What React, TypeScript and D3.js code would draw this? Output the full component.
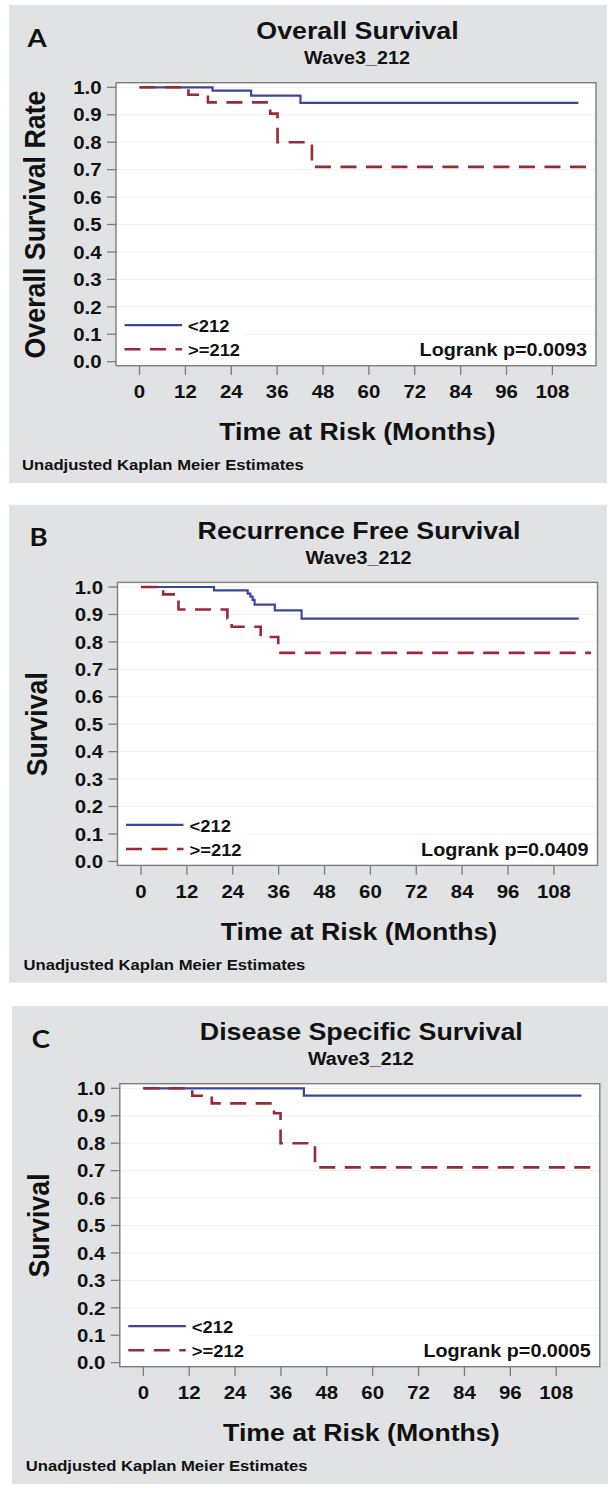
import React from "react";
import * as d3 from "d3";

// ---------- data ----------
const PANEL_LETTERS = ["A", "B", "C"];
const TITLES = ["Overall Survival", "Recurrence Free Survival", "Disease Specific Survival"];
const SUBTITLE = "Wave3_212";
const Y_TITLES = ["Overall Survival Rate", "Survival", "Survival"];
const X_TITLE = "Time at Risk (Months)";
const FOOTNOTE = "Unadjusted Kaplan Meier Estimates";
const PVALUES = ["Logrank p=0.0093", "Logrank p=0.0409", "Logrank p=0.0005"];
const GROUPS = ["<212", ">=212"];
const X_TICKS = [0, 12, 24, 36, 48, 60, 72, 84, 96, 108];
const Y_TICKS = [0, 0.1, 0.2, 0.3, 0.4, 0.5, 0.6, 0.7, 0.8, 0.9, 1.0];

// Overall survival
const osLowTimes = [0, 19.1, 29.2, 42.1, 114.8];
const osLowSurv = [1, 0.988, 0.970, 0.943, 0.943];
const osHighTimes = [0, 12.8, 17.9, 34.2, 36.1, 45.1, 118.0];
const osHighSurv = [1, 0.973, 0.945, 0.904, 0.800, 0.710, 0.710];

// Recurrence free survival
const rfsLowTimes = [0, 19.1, 27.9, 28.6, 29.2, 29.7, 35.0, 42.0, 114.5];
const rfsLowSurv = [1, 0.988, 0.976, 0.965, 0.953, 0.936, 0.915, 0.885, 0.885];
const rfsHighTimes = [0, 5.8, 9.8, 22.6, 23.7, 31.3, 35.9, 117.7];
const rfsHighSurv = [1, 0.973, 0.918, 0.885, 0.855, 0.818, 0.760, 0.760];

// Disease specific survival
const dssLowTimes = [0, 42.0, 114.6];
const dssLowSurv = [1, 0.973, 0.973];
const dssHighTimes = [0, 12.8, 17.9, 34.2, 35.9, 44.9, 117.6];
const dssHighSurv = [1, 0.973, 0.945, 0.909, 0.800, 0.712, 0.712];

const SERIES = [
  [[osLowTimes, osLowSurv], [osHighTimes, osHighSurv]],
  [[rfsLowTimes, rfsLowSurv], [rfsHighTimes, rfsHighSurv]],
  [[dssLowTimes, dssLowSurv], [dssHighTimes, dssHighSurv]],
];

// ---------- styles / layout ----------
const BLUE = "#3c44a2";
const RED = "#9c2838";
const GRAY_BG = "#e1e2e4";
const AXIS = "#7d7d7d";
const GRID = "#efefef";
const TXT = "#111111";
const FONT = "'Liberation Sans', Arial, Helvetica, sans-serif";
const SX = 1.08;
const DASH = "16 9.5";

const PANELS = [
  { dx: 0, dy: 0, grayX: 9, grayW: 598 },
  { dx: 1.5, dy: 499.7, grayX: 9, grayW: 598 },
  { dx: 3.8, dy: 1001, grayX: 12, grayW: 596 },
];

const W = 615;
const H = 1491;

type TProps = {
  x: number; y: number; size: number; anchor?: string; weight?: any;
  rotate?: number; family?: string; fill?: string; children: any;
};
function T({ x, y, size, anchor = "start", weight = "bold", rotate, family = FONT, fill = TXT, children }: TProps) {
  return (
    <text
      transform={`translate(${x},${y}) scale(${SX},1)${rotate ? ` rotate(${rotate})` : ""}`}
      textAnchor={anchor}
      fontSize={size}
      fontWeight={weight}
      fontFamily={family}
      fill={fill}
    >
      {children}
    </text>
  );
}

function Panel({ idx }: { idx: number }) {
  const p = PANELS[idx];
  const boxL = 116 + p.dx;
  const boxR = 596 + p.dx;
  const boxT = 82.7 + p.dy;
  const boxB = 365.7 + p.dy;
  const x = d3.scaleLinear().domain([-6.15, 119.4]).range([boxL, boxR]);
  const y = d3.scaleLinear().domain([-0.0146, 1.0168]).range([boxB, boxT]);
  const line = d3
    .line<[number, number]>()
    .x((d) => x(d[0]))
    .y((d) => y(d[1]))
    .curve(d3.curveStepAfter);
  const cx = (boxL + boxR) / 2;
  const y0 = y(0);
  const series = SERIES[idx];

  return (
    <g>
      <rect x={p.grayX} y={5 + p.dy} width={p.grayW} height={478} fill={GRAY_BG} />
      <T x={37 + p.dx} y={46.5 + p.dy} size={25.5} family="Lato, 'Open Sans', sans-serif" anchor="middle">
        {PANEL_LETTERS[idx]}
      </T>
      <T x={cx + 1.5} y={39.3 + p.dy} size={24.8} anchor="middle">{TITLES[idx]}</T>
      <T x={cx + 1} y={64 + p.dy} size={18.3} anchor="middle">{SUBTITLE}</T>

      {/* plot area */}
      <rect x={boxL} y={boxT} width={boxR - boxL} height={boxB - boxT} fill="#ffffff" />
      {Y_TICKS.filter((v) => v > 0).map((v) => (
        <line key={v} x1={boxL} x2={boxR} y1={y(v)} y2={y(v)} stroke={GRID} strokeWidth={1} />
      ))}
      <rect x={boxL + 1} y={y0 - 42} width={128} height={boxB - (y0 - 42) - 1} fill="#ffffff" />

      {/* curves */}
      <path
        d={line(series[0][0].map((t, i) => [t, series[0][1][i]] as [number, number])) || ""}
        fill="none" stroke={BLUE} strokeWidth={2.2}
      />
      <path
        d={line(series[1][0].map((t, i) => [t, series[1][1][i]] as [number, number])) || ""}
        fill="none" stroke={RED} strokeWidth={2.6} strokeDasharray={DASH}
      />

      {/* box */}
      <rect x={boxL} y={boxT} width={boxR - boxL} height={boxB - boxT} fill="none" stroke={AXIS} strokeWidth={1.4} />

      {/* y axis */}
      {Y_TICKS.map((v) => (
        <g key={v}>
          <line x1={boxL - 9} x2={boxL} y1={y(v)} y2={y(v)} stroke={AXIS} strokeWidth={1.3} />
          <T x={boxL - 14.5} y={y(v) + 6.7} size={18.9} anchor="end">{d3.format(".1f")(v)}</T>
        </g>
      ))}
      {/* x axis */}
      {X_TICKS.map((v) => (
        <g key={v}>
          <line x1={x(v)} x2={x(v)} y1={boxB} y2={boxB + 9.3} stroke={AXIS} strokeWidth={1.3} />
          <T x={x(v)} y={398.3 + p.dy} size={18.9} anchor="middle">{String(v)}</T>
        </g>
      ))}

      <T x={45 + p.dx} y={(y(0) + y(1)) / 2} size={26.8} anchor="middle" rotate={-90}>{Y_TITLES[idx]}</T>
      <T x={cx + 1.5} y={440 + p.dy} size={24.7} anchor="middle">{X_TITLE}</T>
      <T x={22 + p.dx} y={470 + p.dy} size={15.4}>{FOOTNOTE}</T>

      {/* legend */}
      <line x1={boxL + 8.5} x2={boxL + 66} y1={y0 - 36.6} y2={y0 - 36.6} stroke={BLUE} strokeWidth={2.2} />
      <T x={boxL + 72} y={y0 - 29.4} size={17}>{GROUPS[0]}</T>
      <line x1={boxL + 8.5} x2={boxL + 66} y1={y0 - 12.4} y2={y0 - 12.4} stroke={RED} strokeWidth={2.6} strokeDasharray={DASH} />
      <T x={boxL + 72} y={y0 - 5.4} size={17}>{GROUPS[1]}</T>

      <T x={boxR - 9} y={y0 - 5.8} size={18.3} anchor="end">{PVALUES[idx]}</T>
    </g>
  );
}

export default function App() {
  return (
    <svg
      width={W}
      height={H}
      viewBox={`0 0 ${W} ${H}`}
      style={{ position: "absolute", left: 0, top: 0, background: "#ffffff" }}
    >
      <rect x={0} y={0} width={W} height={H} fill="#ffffff" />
      {PANELS.map((_, i) => (
        <Panel key={i} idx={i} />
      ))}
    </svg>
  );
}
